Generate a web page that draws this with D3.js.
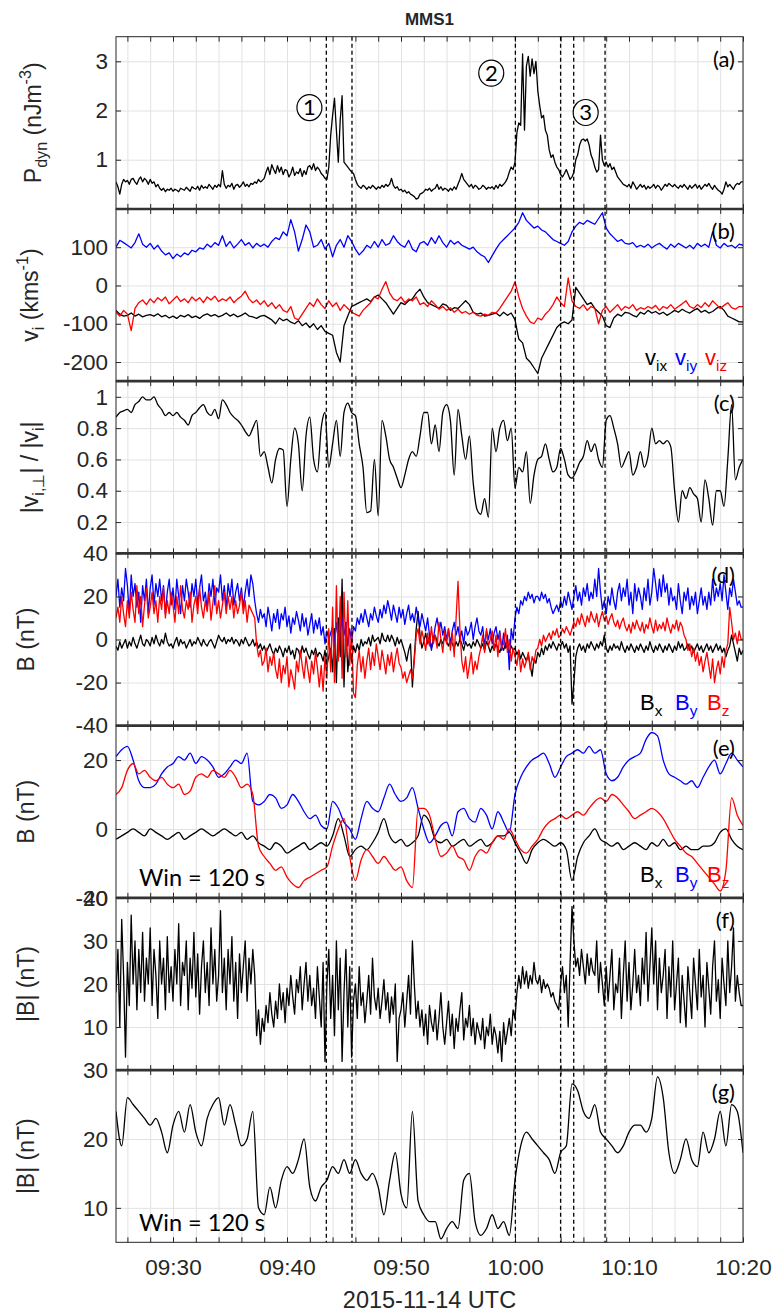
<!DOCTYPE html>
<html>
<head>
<meta charset="utf-8">
<title>MMS1</title>
<script src="https://cdn.jsdelivr.net/npm/d3@7/dist/d3.min.js"></script>
<style>
    body { margin: 0; background: #ffffff; }
    text { font-family: "Liberation Sans", Arial, sans-serif; fill: #262626; }
    text.callout { font-family: Lato, "Open Sans", sans-serif; fill: #000000; }
</style>
</head>
<body>
<div id="chart"></div>
<script>
// ---------- values ----------
const startTime = "2015-11-14T09:25:00Z";
const endTime = "2015-11-14T10:20:00Z";

// (a) dynamic pressure, nJ m^-3, one value every 10 s
const pdyn = [
    .55,.45,.3,.5,.6,.55, .58,.5,.6,.62,.55,.5, .6,.65,.55,.62,.58,.5, .6,.52,.55,.45,.5,.42,
    .38,.42,.35,.4,.38,.42, .36,.4,.38,.35,.42,.4, .38,.44,.4,.36,.45,.42, .4,.46,.38,.48,.42,.45,
    .42,.5,.45,.4,.48,.44, .5,.45,.78,.5,.42,.48, .45,.52,.4,.48,.5,.44, .48,.55,.46,.5,.45,.52,
    .5,.55,.52,.6,.55,.58, .62,.75,.85,.7,.9,.8, .72,.88,.75,.85,.7,.8, .78,.65,.72,.85,.68,.75,
    .72,.82,.66,.78,.7,.85, .88,.8,.92,.78,.85,.8, .72,.68,.62,.6,.85,1.5, 1.9,2.25,1.6,.95,1.8,2.3,
    .95,.9,.85,.8,.75,.72, .6,.5,.45,.42,.48,.45, .4,.45,.42,.48,.44,.4, .45,.42,.48,.44,.5,.46,
    .5,.62,.48,.42,.45,.38, .4,.35,.38,.32,.35,.3, .28,.25,.2,.22,.3,.32, .35,.4,.38,.42,.36,.4,
    .42,.5,.4,.45,.38,.42, .4,.36,.42,.38,.45,.4, .5,.6,.72,.6,.55,.5, .45,.5,.42,.48,.45,.4,
    .42,.48,.45,.4,.44,.42, .45,.4,.48,.42,.5,.46, .5,.55,.62,.75,.85,.8, .95,1.55,1.75,1.7,3.15,1.6,
    2.9,3.1,2.7,3.05,2.75,3.0, 2.4,2.1,1.85,1.9,1.6,1.5, 1.2,1.05,1.1,.95,.85,.8, .7,.65,.72,.8,.7,.6,
    .65,.75,1.0,1.1,1.3,1.4, 1.42,1.38,1.42,1.3,1.1,1.0, .85,.75,.8,1.5,1.0,.88, .95,.85,.92,.8,.85,.75,
    .65,.6,.55,.5,.48,.45, .5,.42,.55,.48,.4,.45, .5,.44,.48,.4,.46,.42, .45,.5,.42,.48,.45,.38,
    .44,.5,.46,.52,.48,.45, .5,.45,.42,.48,.44,.5, .45,.4,.48,.42,.46,.5, .42,.48,.4,.45,.5,.46,
    .52,.45,.4,.48,.42,.38, .35,.3,.4,.55,.45,.5, .45,.4,.48,.52,.5,.55, .55
];

// (b) ion velocity components, km/s, every 20 s
const vix = [
    -65,-75,-80, -78,-72,-80, -75,-82,-78, -76,-80,-74, -82,-78,-85, -80,-86,-78, -82,-76,-84, -80,-86,-78,
    -74,-80,-76, -82,-78,-72, -80,-75,-82, -78,-72,-80, -82,-86,-80, -78,-84,-90, -100,-85,-92, -88,-96,-100,
    -92,-105,-98, -110,-100,-115, -105,-120,-125, -130,-175,-200, -105,-80,-55, -50,-45,-40, -35,-42,-30,
    -25,-35,-45, -60,-75,-60, -45,-50,-40, -35,-20,-10, -30,-45,-50, -55,-60,-48, -52,-65,-58, -60,-50,-40,
    -50,-70,-75, -72,-80,-78, -75,-72,-80, -70,-78,-72, -90,-140,-150, -190,-200,-215, -230,-190,-170,
    -150,-130,-110, -100,-95,-100, -90,-5,-20, -35,-50,-45, -60,-70,-80, -105,-110,-85, -75,-80,-70,
    -72,-78,-82, -70,-75,-65, -72,-68,-75, -70,-78,-72, -65,-70,-62, -68,-72,-65, -60,-70,-65, -72,-68,-60,
    -55,-65,-80, -85,-90,-95, -95
];
const viy = [
    100,118,112, 105,98,112, 135,108,100, 110,95,105, 90,80,85, 70,82,75, 85,80,92, 88,98,95,
    108,100,112, 105,130,102, 115,98,108, 120,105,112, 98,110,102, 108,100,115, 125,120,140, 130,172,140,
    90,120,158, 140,100,105, 120,95,110, 75,105,120, 100,130,115, 95,80,90, 105,98,115, 100,120,105,
    110,130,115, 105,100,118, 95,88,110, 115,105,125, 110,130,112, 100,118,108, 115,105,100, 95,100,88,
    80,75,60, 78,95,110, 120,130,140, 150,165,190, 170,160,150, 155,145,140, 130,120,115, 110,105,115,
    140,155,165, 160,170,165, 160,175,190, 150,135,125, 115,120,110, 108,112,100, 105,100,108, 98,105,110,
    102,95,108, 100,110,104, 98,105,96, 110,102,108, 100,140,105, 98,110,102, 105,98,108, 105
];
const viz = [
    -70,-80,-65, -75,-118,-60, -45,-38,-50, -35,-45,-32, -40,-30,-48, -38,-28,-42, -35,-45,-30, -40,-32,-45,
    -30,-38,-28, -42,-35,-40, -30,-45,-35, -28,-15,-35, -45,-38,-50, -40,-55,-45, -60,-50,-65, -70,-55,-85,
    -90,-75,-60, -45,-55,-35, -50,-60,-40, -55,-45,-65, -50,-60,-70, -75,-80,-65, -55,-45,-30, -35,-10,10,
    -20,-35,-40, -30,-45,-35, -40,-30,-50, -45,-55,-40, -50,-62,-55, -65,-58,-70, -62,-72,-68, -75,-70,-78,
    -80,-75,-78, -70,-72,-60, -45,-30,-15, 10,-30,-60, -80,-95,-100, -85,-90,-75, -65,-50,-30, -45,-55,20,
    -40,-55,-60, -50,-65,-55, -60,-100,-65, -55,-70,-60, -50,-65,-55, -60,-50,-65, -58,-62,-55, -60,-52,-65,
    -55,-60,-50, -62,-55,-48, -40,-55,-60, -50,-58,-45, -55,-40,-50, -60,-52,-45, -58,-62,-55, -55
];

// (c) |v_perp| / |v|, every 20 s
const vPerpRatio = [
    .87,.9,.91, .92,.9,.95, .97,1.0,.98, .98,1.0,.95, .92,.88,.9, .88,.9,.87, .85,.82,.88, .9,.93,.95,
    .9,.88,.92, .86,.98,.95, .9,.87,.85, .82,.78,.75, .8,.85,.62, .65,.55,.45, .6,.67,.66, .3,.6,.8,
    .7,.4,.75, .87,.6,.52, .8,.9,.55, .7,.85,.62, .9,.96,.9, .88,.7,.55, .26,.27,.6, .24,.85,.75,
    .6,.55,.48, .42,.5,.6, .65,.62,.75, .9,.9,.7, .82,.65,.9, .95,.85,.5, .92,.75,.6, .75,.45,.28,
    .25,.35,.23, .8,.65,.8, .85,.72,.8, .42,.55,.52, .65,.32,.5, .6,.62,.7, .6,.52,.55, .67,.6,.5,
    .48,.52,.58, .62,.72,.65, .7,.6,.55, .85,.88,.8, .7,.55,.6, .65,.5,.55, .65,.55,.62, .8,.7,.72,
    .7,.72,.68, .4,.2,.4, .35,.42,.38, .35,.2,.47, .35,.18,.4, .4,.3,.6, .95,.47,.55, .6
];

// (d) magnetic field components, nT, every 10 s
const bx = [
    -3,-5,-1,-4,-2,0, -4,-1,-3,1,-2,-4, -1,2,-2,-3,0,-1, -3,1,-2,2,-1,-3, 0,-2,3,-1,-3,-2, -4,-1,1,-3,0,-2,
    -1,-4,-2,0,-3,-1, -2,1,-1,-3,0,-2, -3,-1,0,-2,-4,-1, 2,0,-1,1,-2,0, -1,1,-2,0,-1,-3, 0,-2,1,-1,-3,-2,
    0,-3,-1,-4,-2,-5, -3,-6,-4,-2,-5,-7, -4,-6,-3,-5,-8,-4, -6,-3,-7,-5,-9,-4, -5,-8,-3,-6,-4,-7, -9,-5,-7,-4,-8,-6,
    -7,-10,-5,-12,-8,-4, -15,5,-20,10,-8,28, -22,8,-15,-5,-10,-3, -6,-2,-5,0,-3,-1, -2,1,-3,2,-1,0, 1,-2,3,0,-1,2,
    -1,2,0,-3,1,-2, 0,-3,-6,-10,-5,-2, -22,-8,5,13,2,-4, -1,3,-2,1,-4,0, 2,-1,-3,0,-2,1, -1,-3,0,-2,-4,-1,
    -3,0,-2,-5,-1,-3, -2,-4,-1,-3,0,-2, -4,-2,-5,-1,-3,-6, -3,-5,-2,-4,-6,-3, -5,-2,-4,-6,-3,-5, -4,-7,-5,-9,-6,-8,
    -10,-7,-12,-17,-9,-11, -6,-8,-4,-7,-3,-5, -2,-4,-1,-3,-5,-2, -3,-1,-4,-2,-6,-3, -30,-20,-8,-4,-2,-5, -3,-6,-2,-4,-1,-3,
    -5,-2,-4,-1,-3,2, -4,-6,-3,-5,-2,-4, -3,-5,-1,-4,-6,-3, -5,-2,-4,-6,-3,-5, -2,-4,-6,-3,-5,-1, -4,-6,-3,-5,-2,-4,
    -6,-3,-5,-2,-4,-6, -3,-5,-1,-4,-2,-5, -4,-2,-5,-3,-6,-4, -2,-5,-3,-6,-4,-2, -5,-3,-6,-4,-2,-5, -3,-6,-4,-8,-5,-3,
    2,-2,-6,-10,-4,-7, -5
];
const by = [
    20,28,15,24,18,33, 25,12,30,20,26,15, 22,8,25,18,28,12, 24,30,16,26,20,28, 18,25,12,22,28,16, 24,14,28,20,12,25,
    18,28,22,15,26,20, 28,16,24,30,18,22, 14,26,20,28,16,24, 22,30,18,25,14,26, 20,28,16,22,26,18, 24,15,22,28,20,30,
    26,18,12,8,14,10, 12,6,15,10,4,12, 8,14,5,12,9,15, 6,11,3,10,7,13, 9,4,12,6,10,2, 7,12,3,9,5,10,
    2,6,-2,4,0,3, 6,-2,8,0,4,10, 2,8,-3,5,-1,6, 4,10,7,12,8,14, 10,6,12,9,15,11, 8,14,10,16,12,18,
    14,9,16,12,8,15, 10,14,7,12,16,9, 12,8,15,10,6,12, 8,4,10,2,-5,0, 6,10,4,8,2,6, 0,5,-2,4,8,2,
    6,0,4,-2,6,2, 4,8,0,6,10,4, 2,6,-3,4,0,5, -2,3,6,0,4,-5, 3,-4,2,-14,5,0, 10,15,12,18,16,20,
    18,22,19,21,17,20, 20,18,22,19,21,17, 19,15,12,14,16,13, 18,15,20,16,22,18, 14,20,25,18,22,16, 24,20,26,18,22,19,
    28,20,33,22,14,18, 12,20,16,24,18,14, 22,26,18,24,20,28, 16,22,12,26,18,24, 20,14,24,18,28,16, 22,33,26,18,28,20,
    30,22,26,16,24,18, 20,14,26,18,12,22, 18,24,14,20,16,22, 12,18,24,16,20,14, 22,16,28,18,24,20, 26,18,30,22,14,24,
    20,28,22,16,18,15, 15
];
const bz = [
    10,15,8,20,12,6, 18,10,22,14,8,25, 12,20,6,16,24,10, 15,22,12,18,8,20, 14,24,10,18,12,22, 16,8,20,12,25,14,
    10,18,14,22,8,16, 20,12,24,15,10,18, 13,22,9,17,25,12, 18,10,16,22,12,20, 14,20,10,18,12,16, 22,12,18,8,16,14,
    12,10,-2,-8,-5,-12, -10,-4,-15,-8,-12,-6, -14,-18,-9,-20,-12,-16, -8,-22,-14,-18,-23,-10, -15,-5,-12,-18,-8,-14, -20,-10,-16,-6,-13,-22,
    -12,-24,-8,-18,5,-15, 15,-20,25,-10,20,-18, 22,-8,18,-12,5,-25, -27,-12,-5,-15,-8,-18, -10,-4,-14,-6,-12,-2, -8,-14,-5,-10,-16,-7,
    -12,-6,-15,-9,-4,-11, -13,-18,-15,-20,-17,-14, -18,-10,2,5,-2,4, 0,-5,3,-3,6,-2, 2,-4,8,0,-6,4, -2,5,-5,3,-8,10,
    27,5,-10,-15,-8,-18, -12,-6,-16,-10,-14,-8, -4,2,-6,5,-3,0, 4,-5,2,-8,3,-4, -2,5,-6,0,-10,-4, -8,-12,-5,-15,-9,-13,
    -10,-6,-14,-8,-11,-5, -4,0,-3,2,-1,1, 3,0,4,2,5,1, 2,5,3,6,4,2, 5,8,6,10,7,12, 9,6,11,8,13,10,
    8,12,6,10,13,9, 11,7,10,12,8,6, 9,5,8,10,6,4, 7,3,8,5,9,6, 4,8,3,7,5,10, 6,3,9,4,7,5,
    8,4,10,6,3,7, 5,9,4,8,6,2, 0,-5,-2,-8,-4,-10, -6,-12,-8,-15,-10,-6, -12,-18,-9,-20,-14,-10, -16,-8,-13,-5,-2,15,
    8,0,3,-2,4,0, 0
];

// (e) magnetic field, 120 s window, every 30 s
const bxWin = [
    -3,-2, -1,0, -1,-2, 0,-1, -2,-3, -2,-1, -3,-2, -1,0, -1,-2, -1,0, -1,-2, -1,-3, -2,-4, -5,-6,
    -4,-5, -7,-6, -5,-4, -6,-5, -4,-5, -2,3, -2,-8, -6,-5, -6,-4, -1,3, -2,-4, -3,-5, -4,-2, 4,2,
    -3,-4, -3,-5, -4,-3, -5,-4, -3,-5, -4,-2, -2,-1, -4,-7, -10,-6, -4,-3, -4,-5, -4,-6, -15,-8, -4,-2,
    0,-3, -4,-5, -4,-6, -5,-4, -5,-6, -4,-5, -3,-5, -4,-6, -5,-6, -6,-5, -5,-4, -1,0, -3,-5, -6
];
const byWin = [
    21,23, 24,20, 14,12, 12,13, 16,18, 19,21, 20,22, 19,21, 20,18, 15,16, 18,20, 19,22, 8,7, 8,10,
    9,6, 7,10, 8,5, 3,4, 1,0, 8,6, 2,0, -3,3, 8,6, 5,9, 13,10, 8,9, 12,6, 0,-4,
    -2,1, 2,-2, 5,6, 3,2, 6,4, 0,5, 2,-1, 10,15, 18,20, 21,22, 19,15, 18,21, 22,23, 22,24,
    22,23, 16,14, 15,18, 20,21, 22,26, 28,27, 20,16, 15,14, 13,14, 12,15, 18,20, 16,19, 22,20, 18
];
const bzWin = [
    10,12, 17,19, 16,17, 15,14, 15,13, 12,13, 10,11, 15,16, 15,17, 16,15, 17,15, 12,13, 10,-5, -8,-10,
    -12,-11, -14,-16, -17,-15, -14,-13, -12,-11, -5,0, 3,-8, -15,-9, -6,-8, -10,-8, -10,-12, -11,-15, -17,6, 6,4,
    -3,-8, -7,-5, -8,-9, -12,-8, -6,-7, -4,-2, -3,0, -3,-6, -7,-5, -3,0, 2,3, 4,3, 4,5, 4,6,
    8,9, 8,10, 9,7, 5,3, 4,5, 6,5, 3,0, -3,-5, -7,-8, -10,-12, -14,-16, -18,-12, 9,4, 1
];

// (f) |B|, nT, every 10 s
const bMag = [
    18,28,10,35,22,3, 25,15,36,20,30,14, 28,18,32,16,26,20, 33,15,28,22,12,30, 20,26,14,31,18,24, 16,28,20,34,15,25,
    22,30,14,26,19,32, 17,27,13,24,30,18, 25,15,33,20,28,16, 22,37,18,26,14,28, 20,31,16,25,12,27, 18,24,30,16,26,20,
    28,22,8,14,6,12, 9,15,11,18,13,10, 16,12,20,14,18,11, 19,15,22,17,13,21, 18,24,14,20,25,16, 22,15,19,12,24,17,
    10,25,2,20,28,12, 22,8,30,14,26,2, 18,28,10,24,3,16, 20,12,24,15,18,11, 16,22,13,26,17,14, 19,12,16,21,14,18,
    11,17,13,20,2,12, 14,18,10,16,22,13, 30,20,12,16,10,14, 8,13,6,15,11,9, 14,7,12,18,10,6, 11,16,8,13,5,12,
    9,14,18,7,12,10, 15,8,12,6,11,9, 7,12,5,10,8,13, 6,10,8,4,9,2, 11,6,9,12,8,14, 12,18,22,19,24,20,
    23,19,22,20,25,21, 20,22,18,21,19,20, 19,17,18,16,15,14, 20,24,18,22,10,25, 38,30,24,26,22,28, 24,20,27,22,26,23,
    22,30,18,25,20,15, 24,16,22,28,14,20, 18,26,12,22,30,16, 25,14,20,28,18,22, 15,26,20,32,16,24, 33,20,30,14,26,18,
    22,28,12,24,17,30, 14,20,26,11,22,16, 10,24,18,12,26,20, 14,28,17,22,10,25, 19,13,24,30,16,21, 12,26,20,15,30,18,
    24,33,16,22,18,15, 15
];

// (g) |B|, 120 s window, every 30 s
const bMagWin = [
    24,19, 26,25, 24,23, 22,23, 21,18, 22,24, 21,25, 21,19, 23,25, 26,22, 25,22, 19,20, 24,10, 9,13,
    10,14, 16,15, 17,20, 13,11, 13,14, 16,15, 17,15, 17,15, 14,15, 13,9, 14,18, 12,10, 24,11, 9,8,
    8,5.5, 7,8, 7,14, 15,8, 6,7, 9,7, 8,6, 14,19, 21,20, 19,18, 17,15, 18,19, 28,27, 24,23,
    25,21, 20,19, 18,19, 21,22, 22,21, 23,29, 26,18, 15,17, 20,17, 16,21, 18,20, 24,19, 25,24, 18
];

// dashed boundaries and circled events
const boundaryTimes = ["09:43:27", "09:45:42", "10:00:02", "10:04:00", "10:05:09", "10:07:54"];
const eventLabels = ["1", "2", "3"];
const eventTimes = ["09:41:58", "09:57:55", "10:06:12"];
const eventLevels = [2.06, 2.76, 1.96];

// per-panel axis settings
const panelLetters = ["(a)", "(b)", "(c)", "(d)", "(e)", "(f)", "(g)"];
const yDomains = [[0, 3.5], [-250, 200], [0, 1.1], [-40, 40], [-20, 30], [0, 40], [5, 30]];
const yTickValues = [[1, 2, 3], [-200, -100, 0, 100], [0.2, 0.4, 0.6, 0.8, 1], [-40, -20, 0, 20, 40], [-20, 0, 20], [10, 20, 30, 40], [10, 20, 30]];


class StackedPanelsD3 {
    width = 772;
    height = 1313;
    left = 116;
    right = 743;
    top = 36.7;
    panelHeight = 172.23;
    axisColor = "#262626";
    gridColor = "#e2e2e2";
    tickFontSize = 22.5;

    constructor(el) {
        this.el = el;
    }

    create() {
        this.svg = d3.select(this.el).append("svg")
            .attr("width", this.width)
            .attr("height", this.height);
        this.svg.append("rect").attr("width", this.width).attr("height", this.height).attr("fill", "#fff");

        this.t0 = new Date(startTime);
        this.t1 = new Date(endTime);
        this.xScale = d3.scaleUtc().domain([this.t0, this.t1]).range([this.left, this.right]);
        // 2 minute ticks, labels only every 10 minutes
        this.xTicks = d3.utcMinute.every(2).range(this.t0, new Date(+this.t1 + 1000));
    }

    // spread the samples of a series evenly across the time range
    toPoints(values) {
        const n = values.length - 1;
        return values.map((v, i) => ({t: new Date(+this.t0 + i * (this.t1 - this.t0) / n), v: v}));
    }

    // write text with sub/superscripts as tspans
    richText(sel, parts, size) {
        let shift = 0;
        parts.forEach(p => {
            const target = p[1] === "sub" ? 0.28 * size : p[1] === "sup" ? -0.42 * size : 0;
            sel.append("tspan")
                .attr("dy", target - shift)
                .attr("font-size", p[1] ? size * 0.7 : size)
                .attr("fill", p[2] || null)
                .text(p[0]);
            shift = target;
        });
    }

    renderPanel(i, series, curve, yLabelParts, yLabelX) {
        const top = this.top + i * this.panelHeight;
        const bottom = top + this.panelHeight;
        const h = this.panelHeight;
        const y = d3.scaleLinear().domain(yDomains[i]).range([bottom, top]);
        const g = this.svg.append("g").attr("class", "panel");

        // grid
        const grid = g.append("g").attr("class", "gridG");
        grid.append("g")
            .attr("transform", "translate(0," + bottom + ")")
            .call(d3.axisBottom(this.xScale).tickValues(this.xTicks).tickSize(-h).tickFormat(""));
        grid.append("g")
            .attr("transform", "translate(" + this.left + ",0)")
            .call(d3.axisLeft(y).tickValues(yTickValues[i]).tickSize(-(this.right - this.left)).tickFormat(""));
        grid.selectAll(".domain").remove();
        grid.selectAll("line").attr("stroke", this.gridColor);

        // data lines, clipped to the panel
        const clipId = "clip" + i;
        g.append("clipPath").attr("id", clipId)
            .append("rect").attr("x", this.left).attr("y", top)
            .attr("width", this.right - this.left).attr("height", h);
        const line = d3.line().x(d => this.xScale(d.t)).y(d => y(d.v)).curve(curve);
        series.forEach(s => {
            g.append("path")
                .attr("clip-path", "url(#" + clipId + ")")
                .attr("d", line(this.toPoints(s.values)))
                .attr("fill", "none")
                .attr("stroke", s.color)
                .attr("stroke-width", 1.3)
                .attr("stroke-linejoin", "round");
        });

        // inward ticks on all four sides
        const isLast = i === yDomains.length - 1;
        const axes = g.append("g").attr("class", "axesG");
        const bottomAxis = d3.axisBottom(this.xScale).tickValues(this.xTicks).tickSize(-5).tickPadding(17)
            .tickFormat(d => isLast && d.getUTCMinutes() % 10 === 0 ? d3.utcFormat("%H:%M")(d) : "");
        axes.append("g").attr("class", "xAxisG").attr("transform", "translate(0," + bottom + ")").call(bottomAxis);
        axes.append("g").attr("transform", "translate(0," + top + ")")
            .call(d3.axisTop(this.xScale).tickValues(this.xTicks).tickSize(-5).tickFormat(""));
        axes.append("g").attr("class", "yAxisG").attr("transform", "translate(" + this.left + ",0)")
            .call(d3.axisLeft(y).tickValues(yTickValues[i]).tickSize(-5).tickPadding(8).tickFormat(d => String(d)));
        axes.append("g").attr("transform", "translate(" + this.right + ",0)")
            .call(d3.axisRight(y).tickValues(yTickValues[i]).tickSize(-5).tickFormat(""));
        axes.selectAll(".domain").remove();
        axes.selectAll(".tick line").attr("stroke", this.axisColor);
        axes.selectAll(".tick text").attr("font-size", this.tickFontSize).attr("fill", this.axisColor)
            .attr("font-family", "Liberation Sans, Arial, sans-serif");

        // box
        g.append("rect").attr("x", this.left).attr("y", top)
            .attr("width", this.right - this.left).attr("height", h)
            .attr("fill", "none").attr("stroke", this.axisColor).attr("stroke-width", 1);
        if (i > 0) {
            g.append("line").attr("x1", this.left).attr("x2", this.right).attr("y1", top).attr("y2", top)
                .attr("stroke", "#333").attr("stroke-width", 2.6);
        }

        // y label
        const yl = g.append("text")
            .attr("transform", "translate(" + yLabelX + "," + (top + h / 2) + ") rotate(-90)")
            .attr("text-anchor", "middle");
        this.richText(yl, yLabelParts, 23);

        // panel letter
        g.append("text").attr("class", "callout")
            .attr("x", 735).attr("y", top + 30)
            .attr("text-anchor", "end").attr("font-size", 22)
            .text(panelLetters[i]);

        return {top: top, bottom: bottom, y: y};
    }

    legend(panel, names, colors, xs) {
        names.forEach((n, k) => {
            const t = this.svg.append("text").attr("x", this.right - xs[k]).attr("y", panel.bottom - 16);
            this.richText(t, [[n[0], null, colors[k]], [n[1], "sub", colors[k]]], 22);
        });
    }

    winNote(panel) {
        this.svg.append("text").attr("class", "callout")
            .attr("x", this.left + 23).attr("y", panel.bottom - 11.5)
            .attr("font-size", 24)
            .attr("textLength", 126).attr("lengthAdjust", "spacingAndGlyphs")
            .text("Win = 120 s");
    }

    renderMarkers(firstPanel, lastPanel) {
        const parse = s => new Date("2015-11-14T" + s + "Z");
        // dashed boundaries through every panel
        this.svg.append("g").selectAll("line")
            .data(boundaryTimes)
            .join("line")
            .attr("x1", d => this.xScale(parse(d))).attr("x2", d => this.xScale(parse(d)))
            .attr("y1", firstPanel.top).attr("y2", lastPanel.bottom)
            .attr("stroke", "#000").attr("stroke-width", 1.3).attr("stroke-dasharray", "4,3");

        // circled event numbers in panel (a)
        const ev = this.svg.append("g").selectAll("g")
            .data(eventLabels)
            .join("g")
            .attr("transform", (d, k) => "translate(" + this.xScale(parse(eventTimes[k])) + "," + firstPanel.y(eventLevels[k]) + ")");
        ev.append("ellipse").attr("rx", 12.5).attr("ry", 13)
            .attr("fill", "#fff").attr("stroke", "#000").attr("stroke-width", 1.2);
        ev.append("text").attr("class", "callout")
            .attr("text-anchor", "middle").attr("dy", "0.36em").attr("font-size", 22)
            .text(d => d);
    }
}

const chart = new StackedPanelsD3(document.getElementById("chart"));
chart.create();

const black = "#000000", blue = "#0000ff", red = "#ff0000";
const pA = chart.renderPanel(0, [{values: pdyn, color: black}], d3.curveLinear,
    [["P"], ["dyn", "sub"], [" (nJm"], ["-3", "sup"], [")"]], 41);
const pB = chart.renderPanel(1, [{values: viy, color: blue}, {values: vix, color: black}, {values: viz, color: red}], d3.curveLinear,
    [["v"], ["i", "sub"], [" (kms"], ["-1", "sup"], [")"]], 38);
chart.renderPanel(2, [{values: vPerpRatio, color: black}], d3.curveMonotoneX,
    [["|v"], ["i,\u22a5", "sub"], ["| / |v"], ["i", "sub"], ["|"]], 38);
const pD = chart.renderPanel(3, [{values: bx, color: black}, {values: by, color: blue}, {values: bz, color: red}], d3.curveLinear,
    [["B (nT)"]], 34);
const pE = chart.renderPanel(4, [{values: bxWin, color: black}, {values: byWin, color: blue}, {values: bzWin, color: red}], d3.curveMonotoneX,
    [["B (nT)"]], 34);
chart.renderPanel(5, [{values: bMag, color: black}], d3.curveLinear, [["|B| (nT)"]], 34);
const pG = chart.renderPanel(6, [{values: bMagWin, color: black}], d3.curveMonotoneX, [["|B| (nT)"]], 34);

chart.legend(pB, [["v", "ix"], ["v", "iy"], ["v", "iz"]], [black, blue, red], [98, 68, 38]);
chart.legend(pD, [["B", "x"], ["B", "y"], ["B", "z"]], [black, blue, red], [103, 68, 36]);
chart.legend(pE, [["B", "x"], ["B", "y"], ["B", "z"]], [black, blue, red], [103, 68, 36]);
chart.winNote(pE);
chart.winNote(pG);
chart.renderMarkers(pA, pG);

// title and time label
chart.svg.append("text").attr("x", (chart.left + chart.right) / 2).attr("y", 25)
    .attr("text-anchor", "middle").attr("font-size", 17).attr("font-weight", "bold").attr("fill", "#000")
    .text("MMS1");
chart.svg.append("text").attr("x", (chart.left + chart.right) / 2).attr("y", 1308)
    .attr("text-anchor", "middle").attr("font-size", 23.5)
    .text("2015-11-14 UTC");
</script>
</body>
</html>
